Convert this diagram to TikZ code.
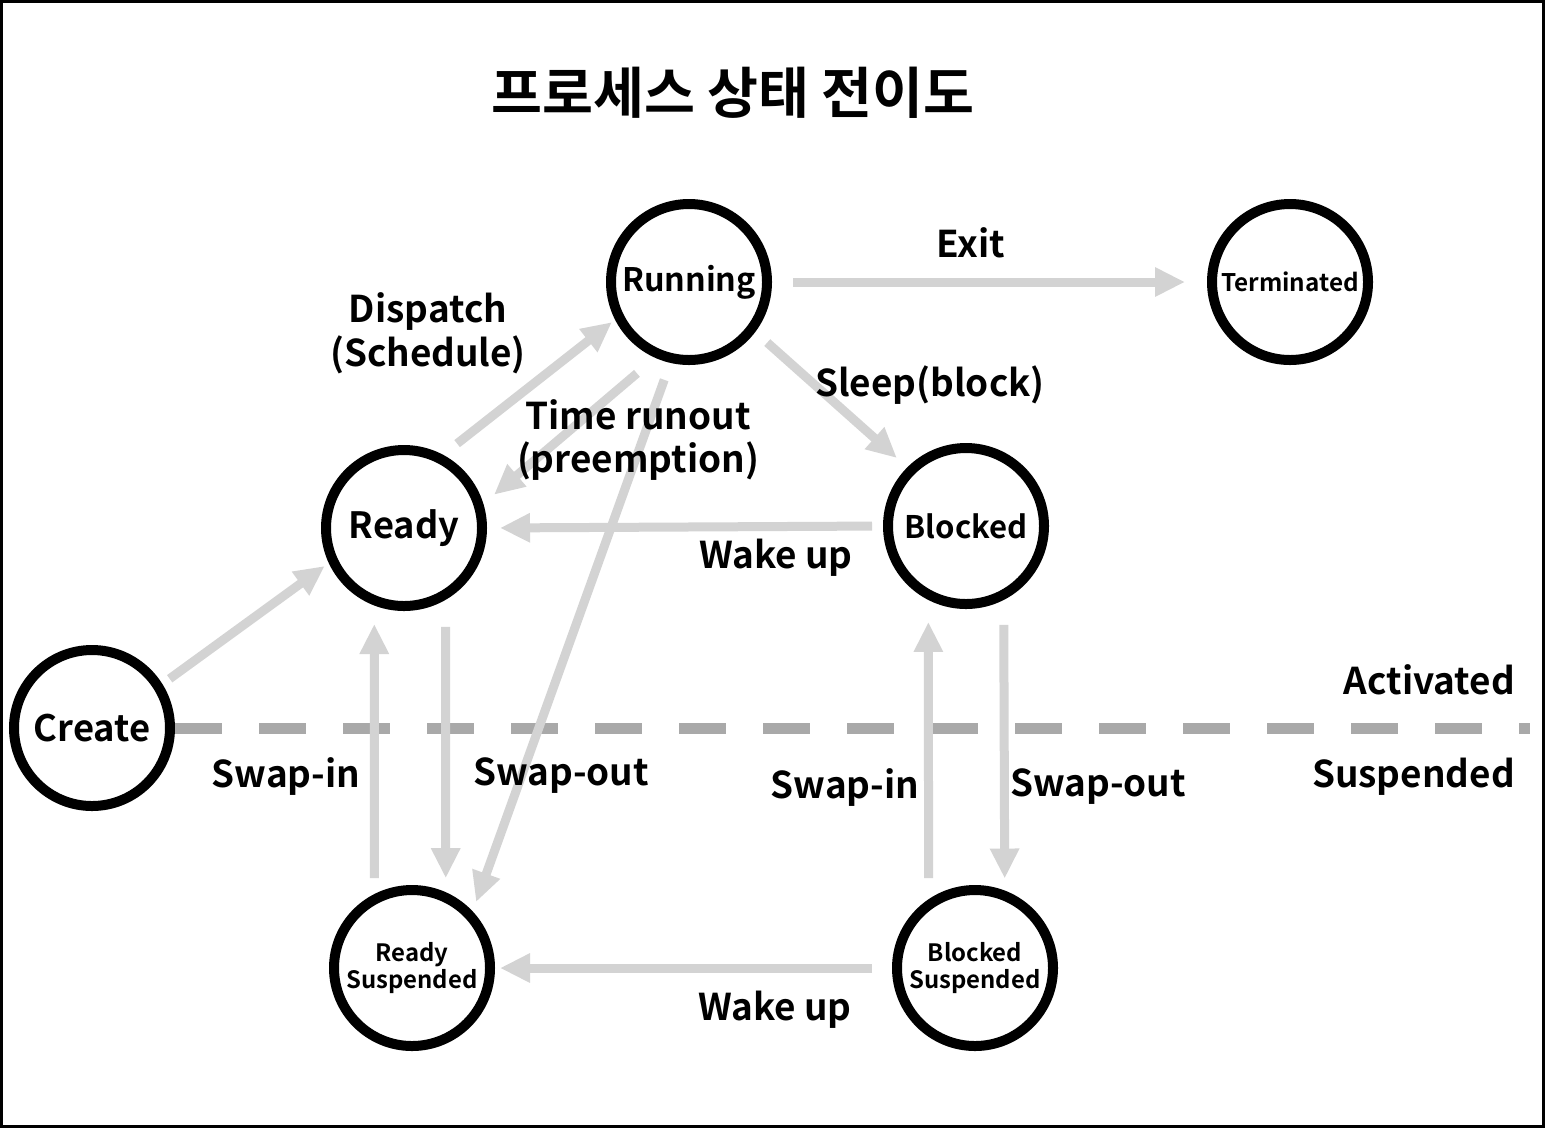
\documentclass[tikz,border=0pt]{standalone}
\usepackage{fontspec}
\setmainfont{Noto Sans CJK KR}[UprightFont={* Bold}]
\usetikzlibrary{arrows.meta}
\definecolor{flowgray}{HTML}{D3D3D3}
\definecolor{dashgray}{HTML}{A9A9A9}
\newcommand{\fsz}[1]{\fontsize{#1}{1.15\dimexpr #1pt\relax}\selectfont}

\begin{document}
\begin{tikzpicture}[
  state/.style={circle,draw,line width=0.2cm,minimum size=3.12cm,inner sep=0pt,align=center},
  flow/.style={draw=flowgray,line width=0.18cm,-{Triangle[length=0.6cm,width=0.55cm]}},
  lbl/.style={font=\fontsize{21}{25}\selectfont,align=center}]
\useasboundingbox (0,0) rectangle (30.9,-22.56);
\draw[line width=0.06cm] (0.03,-0.03) rectangle (30.87,-22.53);
\node[font=\fsz{31.5}] (title) at (14.66,-1.86) {프로세스 상태 전이도};
\node[state,font=\fsz{18.4}] (run) at (13.78,-5.64) {Running};
\node[state,font=\fsz{13.8}] (term) at (25.8,-5.64) {Terminated};
\node[state,font=\fsz{20.6}] (ready) at (8.08,-10.56) {Ready};
\node[state,font=\fsz{17.7}] (blk) at (19.32,-10.52) {Blocked};
\node[state,font=\fsz{20.7}] (create) at (1.84,-14.56) {Create};
\node[state,font=\fsz{13.6}] (rs) at (8.24,-19.36) {Ready\\Suspended};
\node[state,font=\fsz{13.6}] (bs) at (19.5,-19.36) {Blocked\\Suspended};
\coordinate (lineend) at (30.6,-14.56);
\draw[dashgray,line width=0.22cm,dash pattern=on 0.94cm off 0.74cm] (create.east) -- (lineend);
\draw[flow,shorten <=0.36cm,shorten >=0.08cm] (ready.62) -- (run.207);
\draw[flow,shorten <=0.48cm,shorten >=0.28cm] (run.246) -- (ready.17);
\draw[flow,shorten <=0.36cm,shorten >=0.2cm] (run.257) -- (rs.43);
\draw[flow,shorten <=0.32cm,shorten >=0.28cm] (run.323) -- (blk.135);
\draw[flow,shorten <=0.42cm,shorten >=0.44cm] (run.east) -- (term.west);
\draw[flow,shorten <=0.22cm,shorten >=0.26cm] (blk.west) -- (ready.east);
\draw[flow,shorten <=0.18cm,shorten >=0.1cm] (create.32) -- (ready.205);
\draw[flow,shorten <=0.4cm,shorten >=0.1cm] (bs.west) -- (rs.east);
\draw[flow,shorten <=0.32cm,shorten >=0.37cm] (rs.117) -- (ready.249);
\draw[flow,shorten <=0.54cm,shorten >=0.28cm] (ready.300) -- (rs.66);
\draw[flow,shorten <=0.42cm,shorten >=0.44cm] (bs.124) -- (blk.243);
\draw[flow,shorten <=0.5cm,shorten >=0.24cm] (blk.297) -- (bs.69);
\node[lbl] (exit) at (19.42,-4.86) {Exit};
\node[lbl] (disp) at (8.56,-6.66) {Dispatch\\(Schedule)};
\node[lbl] (tro) at (12.76,-8.8) {Time runout\\(preemption)};
\node[lbl] (sleep) at (18.6,-7.7) {Sleep(block)};
\node[lbl] (wake) at (15.52,-11.16) {Wake up};
\node[lbl,anchor=east] (act) at (30.42,-13.6) {Activated};
\node[lbl,anchor=east] (susp) at (30.42,-15.54) {Suspended};
\node[lbl] (sin) at (5.72,-15.52) {Swap-in};
\node[lbl] (sout) at (11.22,-15.52) {Swap-out};
\node[lbl] (bsin) at (16.9,-15.74) {Swap-in};
\node[lbl] (bsout) at (21.96,-15.74) {Swap-out};
\node[lbl] (bwake) at (15.5,-20.2) {Wake up};
\end{tikzpicture}
\end{document}
